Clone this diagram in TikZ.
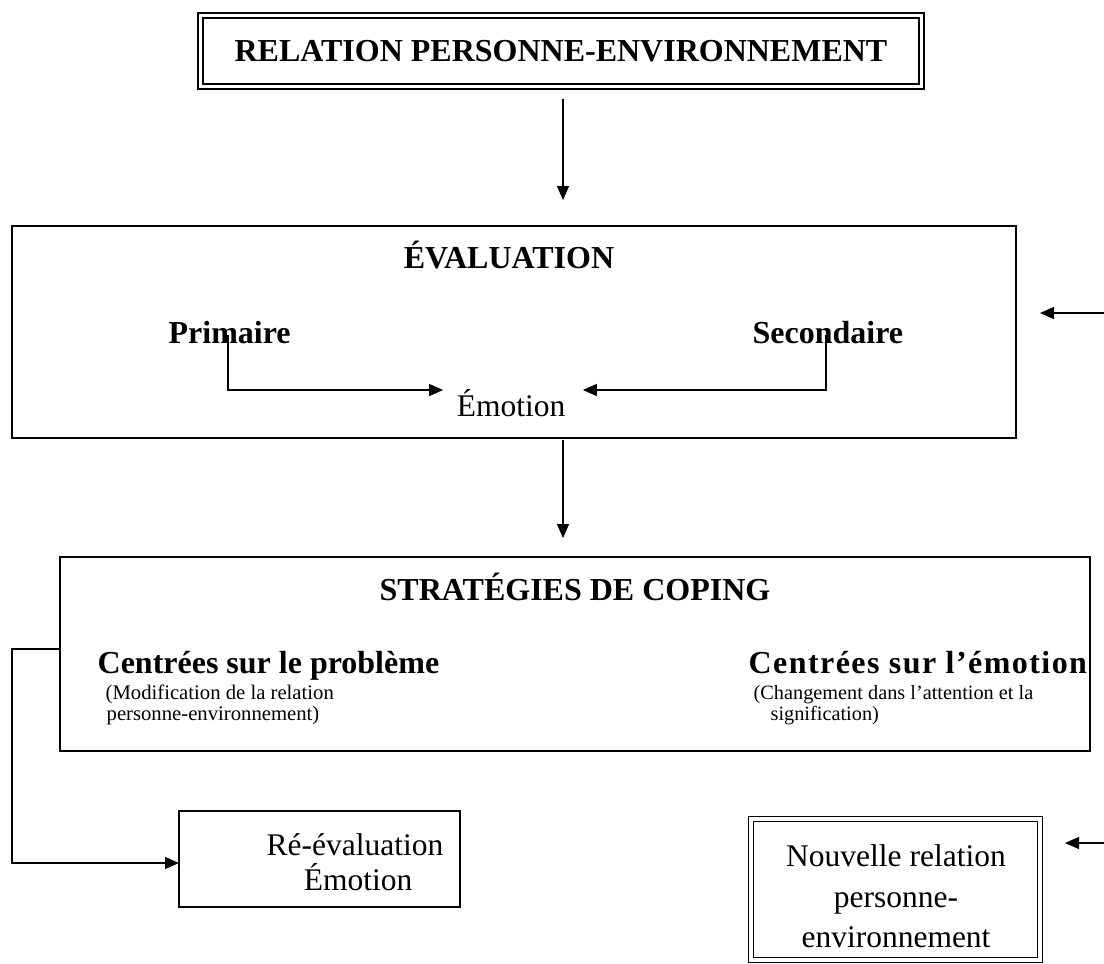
\documentclass[tikz,border=0pt]{standalone}
\usepackage{fontspec}
\setmainfont{Liberation Serif}
\usetikzlibrary{arrows.meta,calc}
\begin{document}
\begin{tikzpicture}[x=1pt,y=-1pt,line width=1.3pt,
  big/.style={font=\fontsize{31.5}{37}\selectfont, inner sep=0pt},
  bigb/.style={font=\fontsize{32}{37}\selectfont\bfseries, inner sep=0pt},
  small/.style={font=\fontsize{20.7}{22}\selectfont, inner sep=0pt},
  arr/.style={-{Triangle[length=14pt,width=12pt]}, line width=1.3pt},
  box/.style={draw, line width=1.3pt, inner sep=0pt, outer sep=0pt},
  dbox/.style={draw, double, double distance=3.5pt, line width=1.3pt, inner sep=0pt, outer sep=0pt},
]
\useasboundingbox (0,0) rectangle (1104,964);

% boxes
\node[dbox, bigb, minimum width=721pt, minimum height=71pt] (rel) at (561,51) {RELATION PERSONNE-ENVIRONNEMENT};
\node[box, minimum width=1004pt, minimum height=212pt] (eval) at (514,332) {};
\node[box, minimum width=1030pt, minimum height=194pt] (coping) at (575,654) {};
\node[box, minimum width=281pt, minimum height=96pt] (reeval) at (319.5,859) {};
\node[dbox, minimum width=289pt, minimum height=141pt] (nouv) at (895.5,889.5) {};

% evaluation texts
\node[bigb, anchor=base] (evaltitle) at (509,268) {ÉVALUATION};
\node[bigb, anchor=base west] (prim) at (168,343) {Primaire};
\node[bigb, anchor=base west] (sec) at (752,343) {Secondaire};
\node[big, anchor=base] (emo) at (511,416) {Émotion};

% coping texts
\node[bigb, anchor=base] (copingtitle) at (575,600) {STRATÉGIES DE COPING};
\node[bigb, anchor=base west] (prob) at (97,673) {Centrées sur le problème};
\node[small, anchor=base west] (probA) at (105,699) {(Modification de la relation};
\node[small, anchor=base west] (probB) at (106,720) {personne-environnement)};
\node[bigb, anchor=base west, font=\fontsize{32}{37}\selectfont\bfseries\addfontfeatures{LetterSpace=4.5}] (emot) at (748,673) {Centrées sur l’émotion};
\node[small, anchor=base west, font=\fontsize{20.3}{22}\selectfont] (emotA) at (753,699) {(Changement dans l’attention et la};
\node[small, anchor=base west, font=\fontsize{20.3}{22}\selectfont] (emotB) at (770,720) {signification)};

% bottom texts
\node[big, anchor=base] (reevA) at (355,855) {Ré-évaluation};
\node[big, anchor=base] (reevB) at (358,890) {Émotion};
\node[big, anchor=north, align=center, font=\fontsize{31.5}{40.5}\selectfont] (nouvtxt) at (896,844) {Nouvelle relation\\personne-\\environnement};

% connectors
\draw[arr] ([xshift=2pt,yshift=-12pt]rel.south) -- ([xshift=49pt,yshift=26pt]eval.north);
\draw[arr] ($(prim.base west)+(60,-8)$) |- ($(emo.base west)+(-13,-26)$);
\draw[arr] ($(sec.base west)+(74,-8)$) |- ($(emo.base east)+(17,-26)$);
\draw[arr] ([xshift=49pt,yshift=-2pt]eval.south) -- ([xshift=-12pt,yshift=19pt]coping.north);
\coordinate (inR) at (1104,313);
\draw[arr] (inR) -- ($(eval.east |- inR)+(24,0)$);
\coordinate (inN) at (1104,843);
\draw[arr] (inN) -- ($(nouv.east |- inN)+(25,0)$);
\draw[arr] ([yshift=5pt]coping.west) -- ++(-48,0) |- ([yshift=-4pt]reeval.west);
\end{tikzpicture}
\end{document}
